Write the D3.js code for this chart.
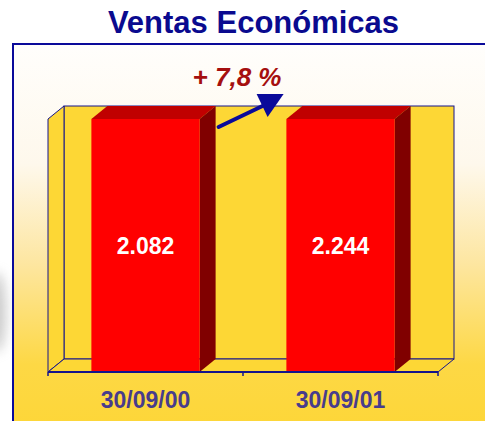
<!DOCTYPE html>
<html><head><meta charset="utf-8">
<script src="https://cdn.jsdelivr.net/npm/d3@7/dist/d3.min.js"></script>
<style>html,body{margin:0;padding:0;background:#fff;overflow:hidden}</style>
</head><body>
<svg id="chart" width="485" height="421"></svg>
<script>
const categories = ["30/09/00", "30/09/01"];
const values = [2082, 2244];
const valueLabels = ["2.082", "2.244"];
const axisMax = 2000;
const title = "Ventas Económicas";
const growthLabel = "+ 7,8 %";

const svg = d3.select("#chart");
const font = "'Liberation Sans', Arial, sans-serif";
const defs = svg.append("defs");
const grad = defs.append("linearGradient").attr("id","bg").attr("x1",0).attr("y1",0).attr("x2",0).attr("y2",1);
[[0,"#fffefc"],[0.3,"#fef8ec"],[0.55,"#fde6a0"],[0.8,"#fdd845"],[1,"#fdd635"]]
  .forEach(([o,c]) => grad.append("stop").attr("offset",o).attr("stop-color",c));
defs.append("filter").attr("id","blur").attr("x","-50%").attr("y","-50%").attr("width","200%").attr("height","200%")
  .append("feGaussianBlur").attr("stdDeviation",6);

// shadow at left
svg.append("ellipse").attr("cx",-3).attr("cy",312).attr("rx",9).attr("ry",40)
  .attr("fill","#9a9a9a").attr("opacity",0.5).attr("filter","url(#blur)");

// frame
svg.append("rect").attr("x",13).attr("y",44).attr("width",490).attr("height",400)
  .attr("fill","url(#bg)").attr("stroke","#0a0a9a").attr("stroke-width",2);

// title
svg.append("text").attr("x",253.5).attr("y",33).attr("text-anchor","middle")
  .attr("font-family",font).attr("font-weight","bold").attr("font-size",31)
  .attr("fill","#0a0a8f").text(title);

// geometry
const x0 = 48, x1 = 438, yBase = 372, yTop = 119;
const dx = 16, dy = -13;
const x = d3.scaleBand().domain(categories).range([x0, x1]).padding(0);
const y = d3.scaleLinear().domain([0, axisMax]).range([yBase, yTop]).clamp(true);
const barW = x.bandwidth() * 0.555;

const yellow = "#fdd735", blue = "#14148c";
const g = svg.append("g");
// back wall
g.append("rect").attr("x",x0+dx).attr("y",yTop+dy).attr("width",x1-x0).attr("height",yBase-yTop)
  .attr("fill",yellow).attr("stroke",blue).attr("stroke-width",1);
// left wall
g.append("path").attr("d",`M${x0},${yTop}L${x0+dx},${yTop+dy}L${x0+dx},${yBase+dy}L${x0},${yBase}Z`)
  .attr("fill",yellow).attr("stroke",blue).attr("stroke-width",1);
// floor
g.append("path").attr("d",`M${x0},${yBase}L${x1},${yBase}L${x1+dx},${yBase+dy}L${x0+dx},${yBase+dy}Z`)
  .attr("fill",yellow).attr("stroke",blue).attr("stroke-width",1);

// bars
const bars = g.selectAll("g.bar").data(categories).join("g").attr("class","bar");
bars.each(function(c,i){
  const b = d3.select(this);
  const bx = x(c) + (x.bandwidth()-barW)/2;
  const by = y(values[i]);
  b.append("path").attr("d",`M${bx},${by}L${bx+dx},${by+dy}L${bx+barW+dx},${by+dy}L${bx+barW},${by}Z`).attr("fill","#c00000");
  b.append("path").attr("d",`M${bx+barW},${by}L${bx+barW+dx},${by+dy}L${bx+barW+dx},${yBase+dy}L${bx+barW},${yBase}Z`).attr("fill","#800000");
  b.append("rect").attr("x",bx).attr("y",by).attr("width",barW).attr("height",yBase-by).attr("fill","#ff0000");
  b.append("text").attr("x",bx+barW/2).attr("y",(by+yBase)/2+8).attr("text-anchor","middle")
    .attr("font-family",font).attr("font-weight","bold").attr("font-size",23).attr("fill","#fff").text(valueLabels[i]);
});

// axis
const axis = d3.axisBottom(x).tickSize(0).tickPadding(0);
const ax = svg.append("g").attr("transform",`translate(0,${yBase})`).call(axis);
ax.select(".domain").remove();
ax.selectAll(".tick line").remove();
ax.selectAll(".tick text").attr("dy",null).attr("y",36)
  .attr("font-family",font).attr("font-weight","bold").attr("font-size",23).attr("fill","#483c8c");
svg.append("line").attr("x1",x0).attr("x2",x1).attr("y1",yBase).attr("y2",yBase).attr("stroke",blue).attr("stroke-width",2);
const tickXs = [x0].concat(categories.map(c => x(c) + x.bandwidth()));
svg.selectAll("line.tk").data(tickXs).join("line").attr("class","tk")
  .attr("x1",d=>d).attr("x2",d=>d).attr("y1",yBase).attr("y2",yBase+4).attr("stroke",blue).attr("stroke-width",1.5);

// growth annotation
const b1x = x(categories[0]) + (x.bandwidth()-barW)/2 + barW;
const topY = y(values[0]);
const sx = b1x + 19, sy = topY + 8;
svg.append("line").attr("x1",sx).attr("y1",sy).attr("x2",sx+46).attr("y2",sy-22)
  .attr("stroke","#0a0a9a").attr("stroke-width",4).attr("stroke-linecap","round");
svg.append("path").attr("d",`M${sx+38},${sy-33}L${sx+65},${sy-33}L${sx+49},${sy-10}Z`).attr("fill","#0a0a9a");
svg.append("text").attr("x",237).attr("y",86).attr("text-anchor","middle")
  .attr("font-family",font).attr("font-weight","bold").attr("font-style","italic").attr("font-size",26)
  .attr("fill","#a50f0f").text(growthLabel);
</script>
</body></html>
